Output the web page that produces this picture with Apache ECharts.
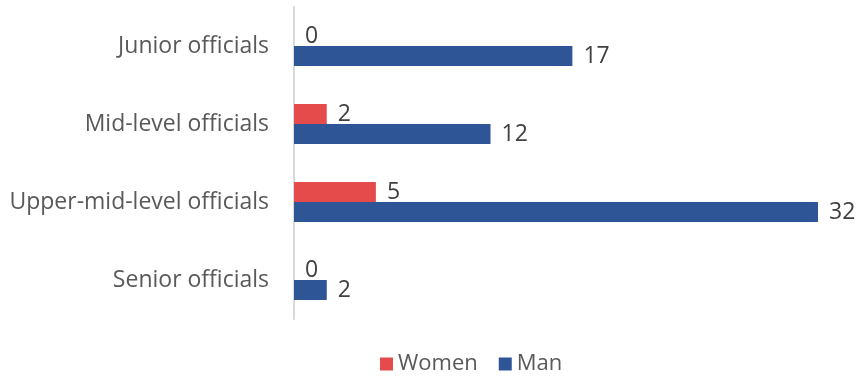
<!DOCTYPE html>
<html>
<head>
<meta charset="utf-8">
<script src="https://cdn.jsdelivr.net/npm/echarts@6/dist/echarts.min.js"></script>
<style>
  html, body { margin: 0; padding: 0; background: #fff; }
  #chart { width: 860px; height: 379px; }
</style>
</head>
<body>
<div id="chart"></div>
<script>
// Staff grades, listed top to bottom
const categories = ['Junior officials', 'Mid-level officials', 'Upper-mid-level officials', 'Senior officials'];
const women = [0, 2, 5, 0];
const men = [17, 12, 32, 2];
const seriesNames = ['Women', 'Man'];

const FONT = '"Open Sans", "Noto Sans", sans-serif';

const chart = echarts.init(document.getElementById('chart'));
const valueLabel = {
  show: true,
  position: 'right',
  distance: 11,
  color: '#404040',
  fontSize: 23,
  fontFamily: FONT
};

chart.setOption({
  animation: false,
  grid: { left: 294, right: 42, top: 7, bottom: 60, containLabel: false },
  legend: {
    top: 353,
    left: 380,
    padding: 0,
    icon: 'rect',
    itemWidth: 13,
    itemHeight: 13,
    itemGap: 21,
    textStyle: { color: '#595959', fontSize: 22, fontFamily: FONT },
    data: seriesNames
  },
  xAxis: {
    type: 'value',
    min: 0,
    max: 32,
    show: false
  },
  yAxis: {
    type: 'category',
    data: categories,
    inverse: true,
    axisLine: { show: true, lineStyle: { color: '#D9D9D9', width: 2 } },
    axisTick: { show: false },
    axisLabel: { color: '#595959', fontSize: 23, fontFamily: FONT, margin: 25 }
  },
  series: [
    {
      name: seriesNames[0],
      type: 'bar',
      data: women,
      barWidth: 20,
      barGap: '0%',
      itemStyle: { color: '#E54B4B' },
      label: valueLabel
    },
    {
      name: seriesNames[1],
      type: 'bar',
      data: men,
      barWidth: 20,
      itemStyle: { color: '#2E5596' },
      label: valueLabel
    }
  ]
});
</script>
</body>
</html>
